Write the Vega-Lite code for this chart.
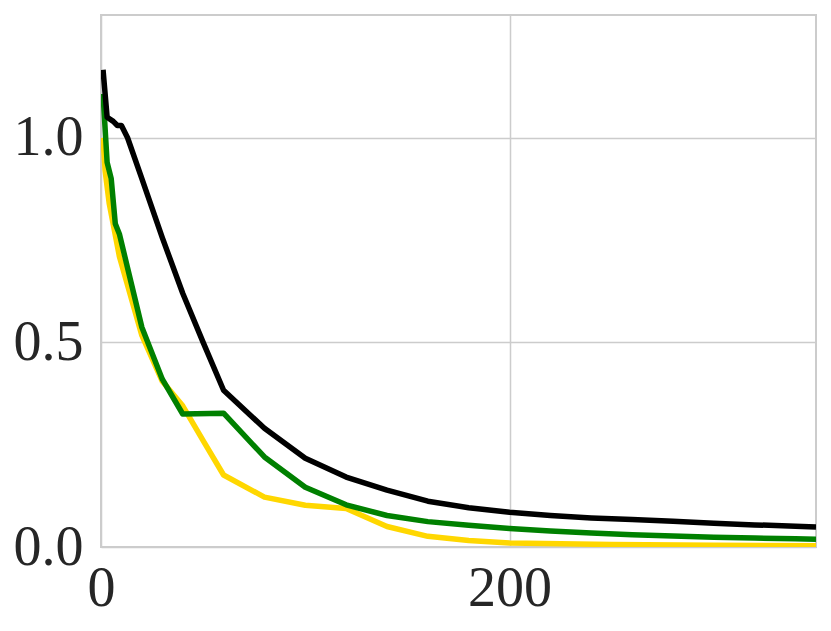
{
  "$schema": "https://vega.github.io/schema/vega-lite/v6.json",
  "width": 715,
  "height": 532,
  "autosize": {"type": "none"},
  "padding": {"left": 101, "top": 15, "right": 15, "bottom": 84},
  "background": "white",
  "config": {
    "view": {"stroke": "#cccccc", "strokeWidth": 2},
    "axis": {
      "labelFont": "Liberation Serif",
      "labelFontSize": 56,
      "labelColor": "#262626",
      "ticks": false,
      "domain": false,
      "gridColor": "#cccccc",
      "gridWidth": 1.5,
      "title": null,
      "labelFlush": false,
      "labelOverlap": false
    }
  },
  "data": {
    "values": [
      {"s": "yellow", "x": 1, "y": 1.0},
      {"s": "yellow", "x": 2, "y": 0.92},
      {"s": "yellow", "x": 4, "y": 0.84},
      {"s": "yellow", "x": 9, "y": 0.71},
      {"s": "yellow", "x": 20, "y": 0.517},
      {"s": "yellow", "x": 30, "y": 0.405},
      {"s": "yellow", "x": 40, "y": 0.345},
      {"s": "yellow", "x": 50, "y": 0.26},
      {"s": "yellow", "x": 60, "y": 0.176},
      {"s": "yellow", "x": 80, "y": 0.122},
      {"s": "yellow", "x": 100, "y": 0.102},
      {"s": "yellow", "x": 120, "y": 0.094},
      {"s": "yellow", "x": 140, "y": 0.05},
      {"s": "yellow", "x": 160, "y": 0.026},
      {"s": "yellow", "x": 180, "y": 0.016},
      {"s": "yellow", "x": 200, "y": 0.01},
      {"s": "yellow", "x": 250, "y": 0.006},
      {"s": "yellow", "x": 300, "y": 0.004},
      {"s": "yellow", "x": 350, "y": 0.003},
      {"s": "green", "x": 1, "y": 1.107},
      {"s": "green", "x": 3, "y": 0.94},
      {"s": "green", "x": 5, "y": 0.9},
      {"s": "green", "x": 7, "y": 0.79},
      {"s": "green", "x": 9, "y": 0.765},
      {"s": "green", "x": 20, "y": 0.537},
      {"s": "green", "x": 30, "y": 0.41},
      {"s": "green", "x": 40, "y": 0.325},
      {"s": "green", "x": 60, "y": 0.327},
      {"s": "green", "x": 80, "y": 0.22},
      {"s": "green", "x": 100, "y": 0.146},
      {"s": "green", "x": 120, "y": 0.103},
      {"s": "green", "x": 140, "y": 0.077},
      {"s": "green", "x": 160, "y": 0.062},
      {"s": "green", "x": 180, "y": 0.053},
      {"s": "green", "x": 200, "y": 0.045},
      {"s": "green", "x": 220, "y": 0.039},
      {"s": "green", "x": 240, "y": 0.034},
      {"s": "green", "x": 260, "y": 0.03},
      {"s": "green", "x": 280, "y": 0.027},
      {"s": "green", "x": 300, "y": 0.024},
      {"s": "green", "x": 320, "y": 0.022},
      {"s": "green", "x": 340, "y": 0.02},
      {"s": "green", "x": 350, "y": 0.019},
      {"s": "black", "x": 1, "y": 1.166},
      {"s": "black", "x": 3, "y": 1.05},
      {"s": "black", "x": 6, "y": 1.04},
      {"s": "black", "x": 8, "y": 1.03},
      {"s": "black", "x": 10, "y": 1.03},
      {"s": "black", "x": 13, "y": 1.0},
      {"s": "black", "x": 20, "y": 0.9},
      {"s": "black", "x": 30, "y": 0.756},
      {"s": "black", "x": 40, "y": 0.62},
      {"s": "black", "x": 50, "y": 0.5},
      {"s": "black", "x": 60, "y": 0.383},
      {"s": "black", "x": 80, "y": 0.29},
      {"s": "black", "x": 100, "y": 0.217},
      {"s": "black", "x": 120, "y": 0.171},
      {"s": "black", "x": 140, "y": 0.139},
      {"s": "black", "x": 160, "y": 0.112},
      {"s": "black", "x": 180, "y": 0.096},
      {"s": "black", "x": 200, "y": 0.085},
      {"s": "black", "x": 220, "y": 0.077},
      {"s": "black", "x": 240, "y": 0.071},
      {"s": "black", "x": 260, "y": 0.067},
      {"s": "black", "x": 280, "y": 0.063},
      {"s": "black", "x": 300, "y": 0.058},
      {"s": "black", "x": 320, "y": 0.054},
      {"s": "black", "x": 340, "y": 0.051},
      {"s": "black", "x": 350, "y": 0.049}
    ]
  },
  "encoding": {
    "x": {
      "field": "x", "type": "quantitative",
      "scale": {"domain": [0, 350], "nice": false},
      "axis": {"values": [0, 200], "labelPadding": 14, "format": "d"}
    },
    "y": {
      "field": "y", "type": "quantitative",
      "scale": {"domain": [0, 1.3], "nice": false},
      "axis": {"values": [0, 0.5, 1.0], "format": ".1f", "labelPadding": 18}
    }
  },
  "layer": [
    {
      "transform": [{"filter": "datum.s === 'yellow'"}],
      "mark": {"type": "line", "color": "#ffd700", "strokeWidth": 5.5, "strokeJoin": "round", "clip": true}
    },
    {
      "transform": [{"filter": "datum.s === 'green'"}],
      "mark": {"type": "line", "color": "#008000", "strokeWidth": 5.5, "strokeJoin": "round", "clip": true}
    },
    {
      "transform": [{"filter": "datum.s === 'black'"}],
      "mark": {"type": "line", "color": "#000000", "strokeWidth": 5.5, "strokeJoin": "round", "clip": true}
    }
  ]
}
